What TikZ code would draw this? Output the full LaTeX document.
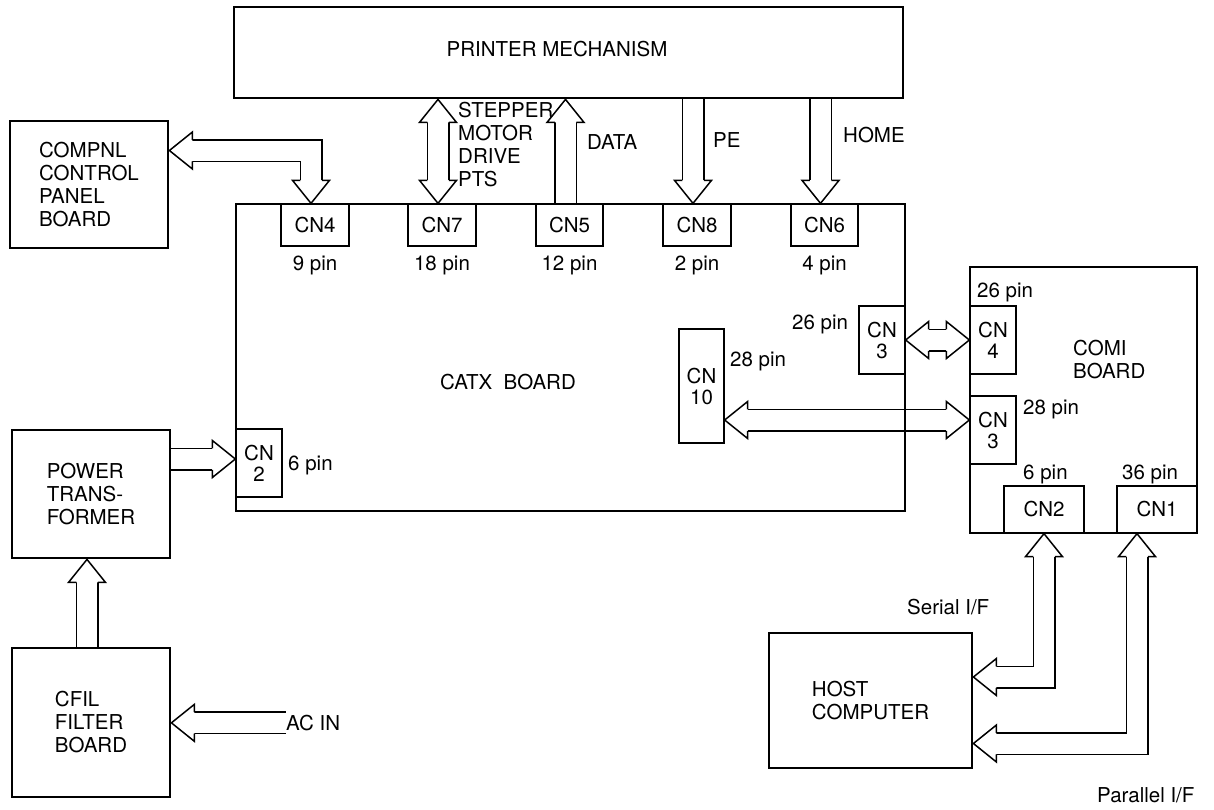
\documentclass[tikz,border=0pt]{standalone}
\usepackage{fontspec}
\setmainfont{TeX Gyre Heros}
\usetikzlibrary{backgrounds}

\newcommand\lblfont{\fontsize{20.5}{23}\selectfont}
\tikzset{
  board/.style={draw, line width=2.8pt, inner sep=0pt, align=left},
  conn/.style={draw, line width=1.3pt, inner sep=0pt, align=center, font=\fontsize{20.5}{21}\selectfont},
  txt/.style={inner sep=0pt, align=left},
  busout/.style={line width=23pt, line cap=butt, line join=miter},
  busin/.style={white, line width=20pt, line cap=butt, line join=miter},
  bushd/.style={line width=1.5pt, line join=miter, fill=white},
}
\newcommand\busline[3]{%
  \draw[busout, shorten <=#1, shorten >=#2] #3;
  \draw[busin] #3;}
\newcommand\bushead[2]{%
  \draw[bushd, shift={(#1)}, rotate=#2] (-23,10.75) -- (-23,18.5) -- (0,0) -- (-23,-18.5) -- (-23,-10.75);}

\begin{document}
\begin{tikzpicture}[x=1pt, y=-1pt, font=\lblfont]
\useasboundingbox (0,0) rectangle (1214,809);

\node[board, minimum width=669pt, minimum height=91pt] (printer) at (568.5,52.5) {};
\node[txt, anchor=base] at (557,56.3) {PRINTER MECHANISM};
\node[board, minimum width=158pt, minimum height=127pt] (compnl) at (89,184.5) {COMPNL\\CONTROL\\PANEL\\BOARD};
\node[board, minimum width=669pt, minimum height=307pt] (catx) at (570.5,357.5) {};
\node[txt, anchor=base] at (508,389.3) {CATX~~BOARD};
\node[board, minimum width=158pt, minimum height=128pt] (power) at (91,494) {POWER\\TRANS-\\FORMER};
\node[board, minimum width=158pt, minimum height=149pt] (cfil) at (91,722.5) {CFIL\\FILTER\\BOARD};
\node[board, minimum width=227pt, minimum height=266pt] (comi) at (1083.5,400) {};
\node[txt, anchor=north west] at (1073,339.7) {COMI\\BOARD};
\node[board, minimum width=203pt, minimum height=135pt] (host) at (870.5,700.5) {HOST\\COMPUTER};

\node[conn, minimum width=68pt, minimum height=42pt] (cn4) at (315,225) {CN4};
\node[conn, minimum width=68pt, minimum height=42pt] (cn7) at (442,225) {CN7};
\node[conn, minimum width=67pt, minimum height=42pt] (cn5) at (569.5,225) {CN5};
\node[conn, minimum width=68pt, minimum height=42pt] (cn8) at (697,225) {CN8};
\node[conn, minimum width=67pt, minimum height=42pt] (cn6) at (824.5,225) {CN6};
\node[conn, minimum width=45pt, minimum height=114pt] (cn10) at (701.5,386) {CN\\10};
\node[conn, minimum width=46pt, minimum height=68pt] (cn3a) at (882,340) {CN\\3};
\node[conn, minimum width=46pt, minimum height=68pt] (cn2a) at (259,463) {CN\\2};
\node[conn, minimum width=46pt, minimum height=68pt] (cn4b) at (993,340) {CN\\4};
\node[conn, minimum width=46pt, minimum height=68pt] (cn3b) at (993,430) {CN\\3};
\node[conn, minimum width=80pt, minimum height=47pt] (cn2b) at (1044,509.5) {CN2};
\node[conn, minimum width=80pt, minimum height=47pt] (cn1) at (1157,509.5) {CN1};

\node[txt, anchor=base] at (315,270.3) {9 pin};
\node[txt, anchor=base] at (442,270.3) {18 pin};
\node[txt, anchor=base] at (569.5,270.3) {12 pin};
\node[txt, anchor=base] at (697,270.3) {2 pin};
\node[txt, anchor=base] at (824.5,270.3) {4 pin};
\node[txt, anchor=base west] at (792,329.3) {26 pin};
\node[txt, anchor=base west] at (730,366.3) {28 pin};
\node[txt, anchor=base west] at (288,470.3) {6 pin};
\node[txt, anchor=base west] at (977,297.3) {26 pin};
\node[txt, anchor=base west] at (1023,414.3) {28 pin};
\node[txt, anchor=base west] at (1023,479.3) {6 pin};
\node[txt, anchor=base west] at (1122,479.3) {36 pin};
\node[txt, anchor=north west] at (458,101.7) {STEPPER\\MOTOR\\DRIVE\\PTS};
\node[txt, anchor=base west] at (587,149.3) {DATA};
\node[txt, anchor=base west] at (713,147.3) {PE};
\node[txt, anchor=base west] at (843,142.3) {HOME};
\node[txt, anchor=base west] (actext) at (286,730.3) {AC IN};
\node[txt, anchor=base west] at (907,614.3) {Serial I/F};
\node[txt, anchor=base west] at (1097,802.3) {Parallel I/F};

\begin{scope}[on background layer]
\busline{23pt}{23pt}{(compnl.east |- 0,150.5) -| ([xshift=-4pt]cn4.north)}
\bushead{compnl.east |- 0,150.5}{180}
\bushead{[xshift=-4pt]cn4.north}{-90}
\busline{23pt}{23pt}{([xshift=-4pt]cn7.north |- printer.south) -- ([xshift=-4pt]cn7.north)}
\bushead{[xshift=-4pt]cn7.north |- printer.south}{90}
\bushead{[xshift=-4pt]cn7.north}{-90}
\busline{0pt}{23pt}{([xshift=-4pt]cn5.north) -- ([xshift=-4pt]cn5.north |- printer.south)}
\bushead{[xshift=-4pt]cn5.north |- printer.south}{90}
\busline{0pt}{23pt}{([xshift=-4pt]cn8.north |- printer.south) -- ([xshift=-4pt]cn8.north)}
\bushead{[xshift=-4pt]cn8.north}{-90}
\busline{0pt}{23pt}{([xshift=-4pt]cn6.north |- printer.south) -- ([xshift=-4pt]cn6.north)}
\bushead{[xshift=-4pt]cn6.north}{-90}
\busline{23pt}{23pt}{(cn3a.east) -- (cn4b.west |- cn3a.east)}
\bushead{cn3a.east}{180}
\bushead{cn4b.west |- cn3a.east}{0}
\busline{23pt}{23pt}{(cn10.east |- 0,420) -- (cn3b.west |- 0,420)}
\bushead{cn10.east |- 0,420}{180}
\bushead{cn3b.west |- 0,420}{0}
\busline{0pt}{23pt}{(power.east |- 0,459) -- (cn2a.west |- 0,459)}
\bushead{cn2a.west |- 0,459}{0}
\busline{0pt}{23pt}{([xshift=-4pt]cfil.north) -- ([xshift=-4pt]power.south)}
\bushead{[xshift=-4pt]power.south}{90}
\busline{0pt}{23pt}{(actext.west) -- (cfil.east |- actext.west)}
\bushead{cfil.east |- actext.west}{180}
\busline{23pt}{23pt}{(cn2b.south) |- (host.east |- 0,677)}
\bushead{cn2b.south}{90}
\bushead{host.east |- 0,677}{180}
\busline{23pt}{23pt}{([xshift=-20pt]cn1.south) |- (host.east |- 0,743.5)}
\bushead{[xshift=-20pt]cn1.south}{90}
\bushead{host.east |- 0,743.5}{180}
\end{scope}
\end{tikzpicture}
\end{document}
